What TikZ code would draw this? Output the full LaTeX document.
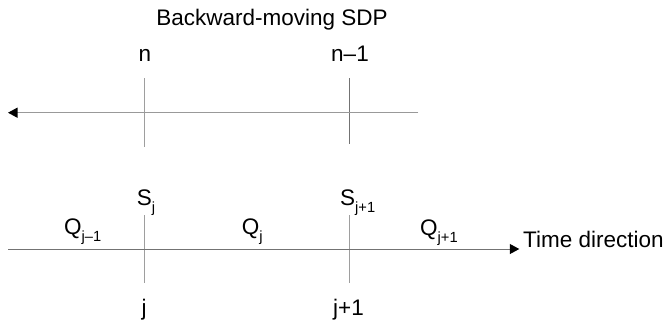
\documentclass[tikz,border=0pt]{standalone}
\usepackage{fontspec}
\setmainfont{Liberation Sans}
\usetikzlibrary{arrows.meta}
\newcommand{\sbs}[1]{\raisebox{-7pt}{\fontsize{14.7}{15}\selectfont #1}}
\definecolor{axisgray}{gray}{0.45}
\definecolor{topgray}{gray}{0.6}
\definecolor{tickgray}{gray}{0.62}
\tikzset{
  lbl/.style={inner sep=0pt, font=\fontsize{22.5}{24}\selectfont},
  axis/.style={line width=1pt, draw=axisgray},
  tick/.style={line width=0.9pt, draw=tickgray},
  tip/.style={-{Triangle[length=9.5pt,width=10pt,color=black]}}
}
\begin{document}
\begin{tikzpicture}[x=1pt,y=-1pt]
\useasboundingbox (0,0) rectangle (666,325);
% title and labels
\node[lbl, anchor=base] (title) at (272,25) {Backward-moving SDP};
\node[lbl, anchor=base] (n) at (145,61) {n};
\node[lbl, anchor=base] (n1) at (350,61) {n–1};
\node[lbl, anchor=base west] (Sj) at (136.7,205) {S\sbs{j}};
\node[lbl, anchor=base west] (Sj1) at (340,205) {S\sbs{j+1}};
\node[lbl, anchor=base west] (Qjm) at (64,234) {Q\sbs{j–1}};
\node[lbl, anchor=base west] (Qj) at (241.7,234) {Q\sbs{j}};
\node[lbl, anchor=base west] (Qjp) at (420,235) {Q\sbs{j+1}};
\node[lbl, anchor=base west] (time) at (523,247) {Time direction};
\node[lbl, anchor=base] (j) at (144,315) {j};
\node[lbl, anchor=base] (jp) at (348.5,315) {j+1};
% coordinates
\coordinate (tr) at (418.3,112.7);
\coordinate (tl) at (8,112.7);
\coordinate (na) at (144.5,78);
\coordinate (nb) at (144.5,147);
\coordinate (ma) at (349.3,78);
\coordinate (mb) at (349.3,144);
\coordinate (bl) at (8,249);
\coordinate (br) at (519.3,249);
\coordinate (ja) at (144.5,215);
\coordinate (jb) at (144.5,283);
\coordinate (ka) at (349.3,215);
\coordinate (kb) at (349.3,283);
% lines
\draw[tick] (na) -- (nb);
\draw[tick, draw=axisgray] (ma) -- (mb);
\draw[tick] (ja) -- (jb);
\draw[tick] (ka) -- (kb);
\draw[axis, draw=topgray, line width=1.3pt, tip] (tr) -- (tl);
\draw[axis, tip] (bl) -- (br);
\end{tikzpicture}
\end{document}
